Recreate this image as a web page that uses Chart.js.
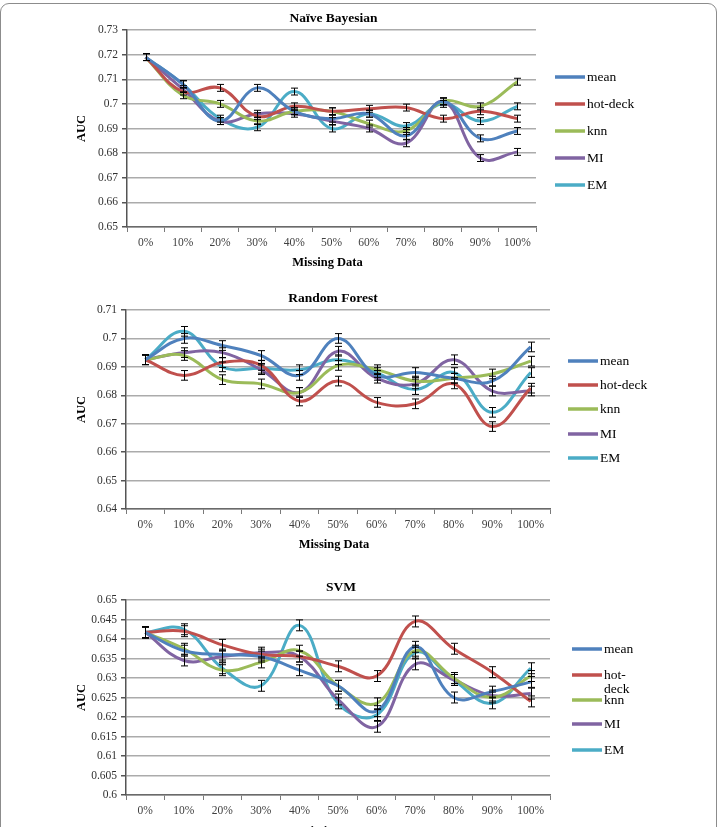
<!DOCTYPE html>
<html><head><meta charset="utf-8">
<script src="https://cdn.jsdelivr.net/npm/chart.js@4/dist/chart.umd.min.js"></script>
<style>
html,body{margin:0;padding:0;background:#fff;width:719px;height:827px;overflow:hidden;position:relative;}
.frame{position:absolute;left:0;top:3px;width:715px;height:900px;border:1px solid #8c8c8c;border-radius:9px;}
canvas{position:absolute;left:0;}
</style></head><body>
<div class="frame"></div>
<canvas id="c1" width="719" height="280" style="top:0"></canvas>
<canvas id="c2" width="719" height="280" style="top:280px"></canvas>
<canvas id="c3" width="719" height="290" style="top:560px"></canvas>
<script>
const categories = ['0%','10%','20%','30%','40%','50%','60%','70%','80%','90%','100%'];
const seriesNames = ['mean','hot-deck','knn','MI','EM'];
const seriesColors = ['#4F81BD','#C0504D','#9BBB59','#8064A2','#4BACC6'];

// Naïve Bayesian
const nbMean = [0.719,0.708,0.693,0.7065,0.697,0.694,0.696,0.687,0.701,0.686,0.689];
const nbHot  = [0.719,0.705,0.7065,0.695,0.699,0.697,0.698,0.6985,0.694,0.697,0.694];
const nbKnn  = [0.719,0.7035,0.700,0.693,0.697,0.697,0.692,0.689,0.701,0.699,0.709];
const nbMI   = [0.719,0.706,0.693,0.696,0.696,0.693,0.690,0.684,0.701,0.678,0.6805];
const nbEM   = [0.719,0.708,0.694,0.6905,0.705,0.690,0.696,0.691,0.700,0.693,0.699];
const nbErr = 0.0014;
const nbTicks = [0.65,0.73,0.01];

// Random Forest
const rfMean = [0.6925,0.700,0.6975,0.694,0.687,0.700,0.687,0.688,0.686,0.685,0.697];
const rfHot  = [0.6925,0.687,0.6915,0.6905,0.678,0.685,0.6775,0.677,0.684,0.669,0.6825];
const rfKnn  = [0.6925,0.694,0.6855,0.684,0.681,0.6905,0.689,0.685,0.686,0.6875,0.692];
const rfMI   = [0.6925,0.695,0.695,0.689,0.681,0.6955,0.686,0.684,0.6925,0.6815,0.6815];
const rfEM   = [0.6925,0.7025,0.690,0.6895,0.689,0.6925,0.688,0.682,0.688,0.674,0.688];
const rfErr = 0.0017;
const rfTicks = [0.64,0.71,0.01];

// SVM
const svMean = [0.6417,0.637,0.636,0.6355,0.632,0.628,0.6215,0.638,0.625,0.6265,0.629];
const svHot  = [0.6417,0.642,0.6385,0.636,0.6355,0.633,0.6305,0.6445,0.6375,0.6315,0.624];
const svKnn  = [0.6417,0.6375,0.632,0.634,0.637,0.628,0.6235,0.637,0.630,0.625,0.6305];
const svMI   = [0.6417,0.6345,0.6355,0.6365,0.6355,0.6245,0.6175,0.6335,0.6295,0.6255,0.626];
const svEM   = [0.6417,0.6425,0.6325,0.628,0.6435,0.6235,0.6205,0.6365,0.6295,0.6235,0.6325];
const svErr = 0.0014;
const svTicks = [0.6,0.65,0.005];

const FONT = "'Liberation Serif', 'DejaVu Serif', serif";

const decoPlugin = {
  id: 'deco',
  afterDatasetsDraw(chart, args, o) {
    const ctx = chart.ctx, ca = chart.chartArea, y = chart.scales.y;
    ctx.save();
    // error bars
    ctx.strokeStyle = '#000'; ctx.lineWidth = 1;
    chart.data.datasets.forEach((ds, i) => {
      const meta = chart.getDatasetMeta(i);
      meta.data.forEach((el, j) => {
        const v = ds.data[j];
        const x = Math.round(el.x) + 0.5;
        const t = y.getPixelForValue(v + o.err), b = y.getPixelForValue(v - o.err);
        ctx.beginPath();
        ctx.moveTo(x, t); ctx.lineTo(x, b);
        ctx.moveTo(x - 3.5, t); ctx.lineTo(x + 3.5, t);
        ctx.moveTo(x - 3.5, b); ctx.lineTo(x + 3.5, b);
        ctx.stroke();
      });
    });
    const cx = (ca.left + ca.right) / 2;
    ctx.fillStyle = '#000';
    ctx.textAlign = 'center'; ctx.textBaseline = 'middle';
    ctx.font = "bold 13.5px " + FONT;
    ctx.fillText(o.title, cx + o.titleDx, o.titleY);
    ctx.font = "bold 12.5px " + FONT;
    ctx.fillText('Missing Data', cx - 4, o.xTitleY);
    ctx.save();
    ctx.translate(82, (ca.top + ca.bottom) / 2);
    ctx.rotate(-Math.PI / 2);
    ctx.fillText('AUC', 0, 0);
    ctx.restore();
    // legend
    ctx.textAlign = 'left';
    ctx.font = "13.5px " + FONT;
    chart.data.datasets.forEach((ds, i) => {
      const ly = o.legendYs[i];
      ctx.strokeStyle = ds.borderColor; ctx.lineWidth = 3.5;
      ctx.beginPath(); ctx.moveTo(o.legendX, ly); ctx.lineTo(o.legendX + 30, ly); ctx.stroke();
      ctx.fillStyle = '#000';
      const label = ds.label;
      if (o.legendMaxW && ctx.measureText(label).width > o.legendMaxW && label.includes('-')) {
        const k = label.indexOf('-') + 1;
        ctx.fillText(label.slice(0, k), o.legendX + 32, ly);
        ctx.fillText(label.slice(k), o.legendX + 32, ly + 14);
      } else {
        ctx.fillText(label, o.legendX + 32, ly);
      }
    });
    ctx.restore();
  }
};

function fmt(v) { return String(parseFloat(v.toFixed(4))); }

function makeChart(id, series, ticks, pad, yW, deco) {
  const datasets = series.map((d, i) => ({
    label: seriesNames[i], data: d, borderColor: seriesColors[i], backgroundColor: seriesColors[i],
    borderWidth: 3, pointRadius: 0, tension: 0.4, fill: false
  }));
  return new Chart(document.getElementById(id), {
    type: 'line',
    data: { labels: categories, datasets },
    plugins: [decoPlugin],
    options: {
      responsive: false, animation: false,
      layout: { padding: pad },
      plugins: { legend: { display: false }, tooltip: { enabled: false }, deco },
      scales: {
        x: {
          offset: true,
          grid: { display: true, drawOnChartArea: false, offset: true, tickLength: 5, color: '#7a7a7a', lineWidth: 1 },
          border: { color: '#6a6a6a', width: 1.5 },
          ticks: { font: { family: FONT, size: 11.5 }, color: '#404040', padding: 4, maxRotation: 0, autoSkip: false },
          afterFit: s => { s.height = 22; }
        },
        y: {
          min: ticks[0], max: ticks[1],
          ticks: { stepSize: ticks[2], callback: v => fmt(v), font: { family: FONT, size: 11.5 }, color: '#303030', padding: 4 },
          grid: { color: '#ababab', lineWidth: 1.5, tickLength: 5, tickColor: '#555' },
          border: { color: '#555', width: 1.5 },
          afterFit: s => { s.width = yW; }
        }
      }
    }
  });
}

makeChart('c1', [nbMean, nbHot, nbKnn, nbMI, nbEM], nbTicks,
  { top: 30, left: 0, right: 183, bottom: 31 }, 127,
  { err: nbErr, title: 'Naïve Bayesian', titleY: 19, titleDx: 2, xTitleY: 263,
    legendX: 555, legendYs: [77, 104, 131, 158, 185] });

makeChart('c2', [rfMean, rfHot, rfKnn, rfMI, rfEM], rfTicks,
  { top: 30, left: 0, right: 169, bottom: 29 }, 126,
  { err: rfErr, title: 'Random Forest', titleY: 19, titleDx: -5, xTitleY: 265,
    legendX: 568, legendYs: [81, 105, 129, 154, 178] });

makeChart('c3', [svMean, svHot, svKnn, svMI, svEM], svTicks,
  { top: 40, left: 0, right: 169, bottom: 33 }, 126,
  { err: svErr, title: 'SVM', titleY: 28, titleDx: 3, xTitleY: 272,
    legendX: 572, legendYs: [89, 115, 140, 164, 190], legendMaxW: 32 });
</script>
</body></html>
